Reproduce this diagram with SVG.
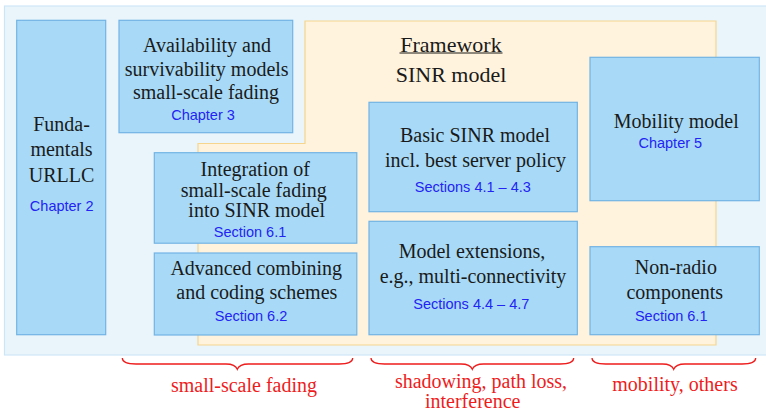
<svg xmlns="http://www.w3.org/2000/svg" width="766" height="412" viewBox="0 0 766 412">
<style>
.box{fill:#a8daf7;stroke:#72b3e4;stroke-width:1.2}
.t{font-family:"Liberation Serif","Times New Roman",serif;font-size:20px;fill:#1a1a1a;text-anchor:middle}
.big{font-size:22px}
.b{font-family:"Liberation Sans",Arial,sans-serif;font-size:14.5px;fill:#2323f5;text-anchor:middle}
.r{font-family:"Liberation Serif","Times New Roman",serif;font-size:20px;fill:#ee1c1c;text-anchor:middle}
.brace{fill:none;stroke:#ee1c1c;stroke-width:1.3}
</style>
<rect width="766" height="412" fill="#ffffff"/>
<g id="background">
<rect x="4.5" y="6" width="770" height="349" fill="#eaf5fb" stroke="#cde6f7" stroke-width="1.2"/>
</g>
<g id="framework">
<polygon points="305,21 716,21 716,345 198,345 198,143.5 305,143.5" fill="#fff3dd" stroke="#f6d58f" stroke-width="1.2"/>
<text class="t big" x="451" y="51.5">Framework</text>
<line x1="399.5" y1="53" x2="502.5" y2="53" stroke="#1a1a1a" stroke-width="1"/>
<text class="t big" x="451" y="81.5">SINR model</text>
</g>
<g id="fundamentals">
<rect class="box" x="16.7" y="20.3" width="89" height="314.4"/>
<text class="t" x="61.5" y="130.7">Funda-</text>
<text class="t" x="61.5" y="156">mentals</text>
<text class="t" x="61.5" y="181.7">URLLC</text>
<text class="b" x="61.7" y="211">Chapter 2</text>
</g>
<g id="availability">
<rect class="box" x="119" y="20.3" width="173.7" height="112.4"/>
<text class="t" x="207" y="52.3">Availability and</text>
<text class="t" x="206.7" y="75.8">survivability models</text>
<text class="t" x="206" y="99.3">small-scale fading</text>
<text class="b" x="203" y="120">Chapter 3</text>
</g>
<g id="integration">
<rect class="box" x="154.3" y="152.7" width="202.5" height="90.5"/>
<text class="t" x="255.2" y="176">Integration of</text>
<text class="t" x="253.7" y="196.7">small-scale fading</text>
<text class="t" x="256.7" y="217.3">into SINR model</text>
<text class="b" x="250" y="237.3">Section 6.1</text>
</g>
<g id="advanced">
<rect class="box" x="154.3" y="253" width="202.5" height="82"/>
<text class="t" x="256.2" y="275">Advanced combining</text>
<text class="t" x="256.8" y="299.3">and coding schemes</text>
<text class="b" x="251" y="321">Section 6.2</text>
</g>
<g id="basic-sinr">
<rect class="box" x="369" y="102.3" width="208.3" height="109.4"/>
<text class="t" x="475" y="141.7">Basic SINR model</text>
<text class="t" x="475.5" y="166.7">incl. best server policy</text>
<text class="b" x="472.8" y="191.7">Sections 4.1 – 4.3</text>
</g>
<g id="model-extensions">
<rect class="box" x="369" y="221.3" width="208.3" height="113.4"/>
<text class="t" x="472" y="257.7">Model extensions,</text>
<text class="t" x="473" y="283.3">e.g., multi-connectivity</text>
<text class="b" x="471.3" y="308.7">Sections 4.4 – 4.7</text>
</g>
<g id="mobility">
<rect class="box" x="590" y="57.3" width="169.3" height="143.4"/>
<text class="t" x="676.3" y="127.7">Mobility model</text>
<text class="b" x="670.3" y="148.3">Chapter 5</text>
</g>
<g id="non-radio">
<rect class="box" x="590" y="246.7" width="169.3" height="88"/>
<text class="t" x="675.8" y="273.7">Non-radio</text>
<text class="t" x="674.8" y="298.7">components</text>
<text class="b" x="671.2" y="321">Section 6.1</text>
</g>
<g id="connectors">
<path class="brace" d="M122.3,358 C122.3,362 126,364 136,364 L226,364 C233,364 236,366 237.3,369.3 C238.6,366 241.6,364 248.6,364 L339,364 C349,364 352.7,362 352.7,358"/>
<path class="brace" d="M371,358 C371,362 374.7,364 384.7,364 L461,364 C468,364 471,366 472.3,369.3 C473.6,366 476.6,364 483.6,364 L560,364 C570,364 573.7,362 573.7,358"/>
<path class="brace" d="M592,358 C592,362 595.7,364 605.7,364 L662.4,364 C669.4,364 672.4,366 673.7,369.3 C675,366 678,364 685,364 L742,364 C752,364 755.7,362 755.7,358"/>
</g>
<g id="labels">
<text class="r" x="244" y="391.7">small-scale fading</text>
<text class="r" x="481" y="387.7">shadowing, path loss,</text>
<text class="r" x="472.7" y="408.3">interference</text>
<text class="r" x="675" y="391">mobility, others</text>
</g>
</svg>
